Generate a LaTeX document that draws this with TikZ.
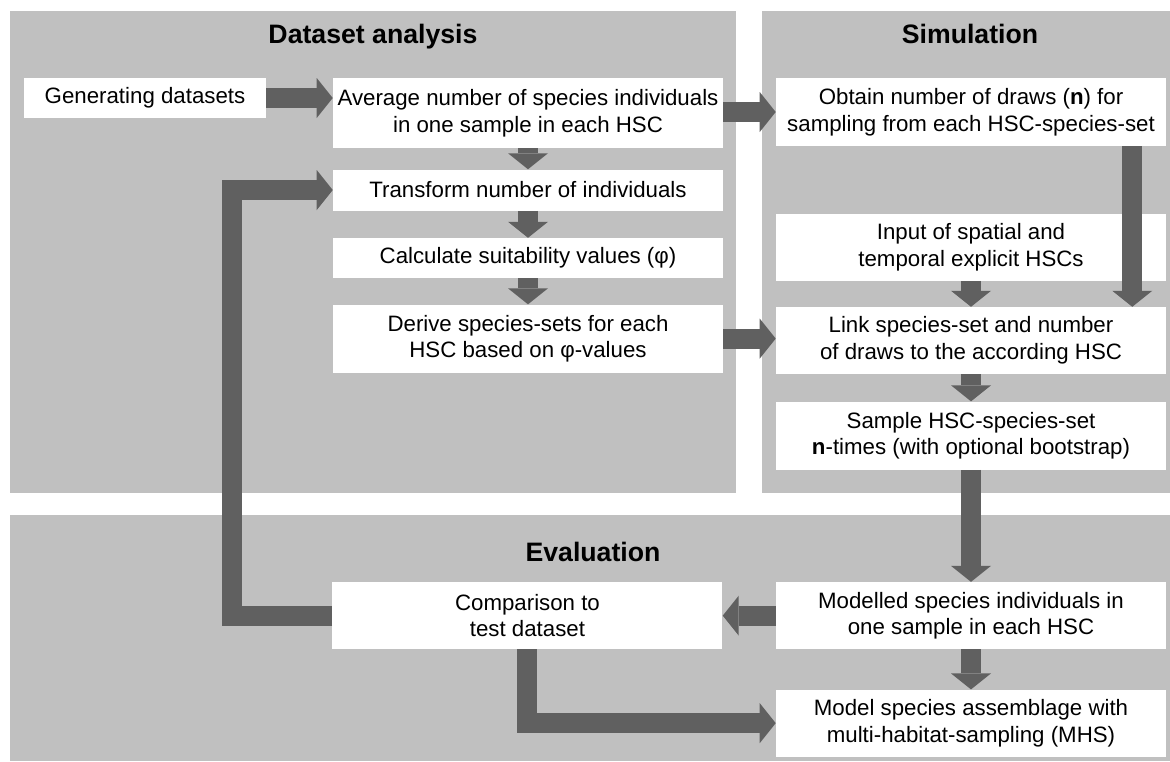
\documentclass[tikz,border=0pt]{standalone}
\usepackage{fontspec}
\setmainfont{Liberation Sans}
\usepackage{xcolor}
\usetikzlibrary{arrows.meta,positioning,calc}

\definecolor{panelgray}{RGB}{192,192,192}
\definecolor{arrowgray}{RGB}{96,96,96}

\begin{document}
\begin{tikzpicture}[
        x=0.75pt, y=-0.75pt,
        box/.style={rectangle, fill=white, inner sep=0pt, minimum width=292.5pt,
                    minimum height=50.25pt, align=center,
                    font={\fontsize{16.7pt}{20pt}\selectfont}},
        title/.style={anchor=base, font={\fontsize{20pt}{24pt}\selectfont\bfseries}},
        blk/.style={draw=arrowgray, line width=15pt,
                    -{Triangle[width=30pt, length=12pt, line width=0pt]}}
    ]
        \useasboundingbox (0,0) rectangle (1170,761);

        % panels
        \fill[panelgray] (10,11) rectangle (736,493);
        \fill[panelgray] (762,11) rectangle (1170,493);
        \fill[panelgray] (10,515) rectangle (1170,761);

        \node[title] (tda) at (373,43) {Dataset analysis};
        \node[title] (tsim) at (970,43) {Simulation};
        \node[title] (teval) at (593,561) {Evaluation};

        % dataset analysis
        \node[box, minimum width=181.5pt, minimum height=30pt] (gen) at (145,98) {Generating datasets};
        \node[box, minimum height=52.5pt] (avg) at (528,113) {Average number of species individuals\\ in one sample in each HSC};
        \node[box, minimum height=30.75pt, below=15.75pt of avg] (trf) {Transform number of individuals};
        \node[box, minimum height=30pt, below=20.25pt of trf] (clc) {Calculate suitability values (φ)};
        \node[box, minimum height=51pt, below=19.5pt of clc] (drv) {Derive species-sets for each\\ HSC based on φ-values};

        % simulation
        \node[box, minimum height=51pt] (obt) at (971,112) {Obtain number of draws (\textbf{n}) for\\ sampling from each HSC-species-set};
        \node[box, below=50.25pt of obt] (inp) {Input of spatial and\\ temporal explicit HSCs};
        \node[box, below=19.5pt of inp] (lnk) {Link species-set and number\\ of draws to the according HSC};
        \node[box, minimum height=51pt, below=20.25pt of lnk] (smp) {Sample HSC-species-set\\ \textbf{n}-times (with optional bootstrap)};

        % evaluation
        \node[box, below=84pt of smp] (mod) {Modelled species individuals in\\ one sample in each HSC};
        \node[box, below=30pt of mod] (mhs) {Model species assemblage with\\ multi-habitat-sampling (MHS)};
        \node[box, left=39.75pt of mod] (cmp) {Comparison to\\ test dataset};
        \coordinate (fb) at (232,400);

        \draw[blk] (gen) -- (gen -| avg.west);
        \draw[blk] (avg.east |- obt.west) -- (obt.west);
        \draw[blk] (avg) -- (trf);
        \draw[blk] (trf) -- (clc);
        \draw[blk] (clc) -- (drv);
        \draw[blk] (drv.east) -- (drv.east -| lnk.west);
        \draw[blk] ($(obt.south east)+(-34,0)$) -- ($(lnk.north east)+(-34,0)$);
        \draw[blk] (inp) -- (lnk);
        \draw[blk] (lnk) -- (smp);
        \draw[blk] (smp) -- (mod);
        \draw[blk] (mod) -- (mhs);
        \draw[blk] (mod) -- (cmp);
        \draw[blk] (cmp.west) -- (cmp.west -| fb) |- (trf.west);
        \draw[blk] (cmp.south) |- (mhs.west);
    \end{tikzpicture}
\end{document}
